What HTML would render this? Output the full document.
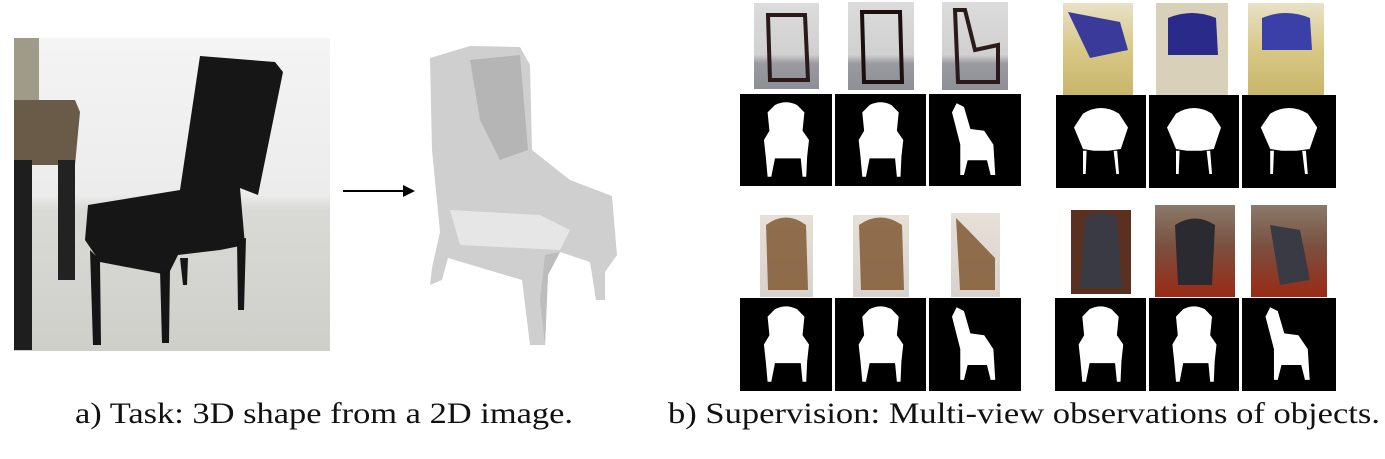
<!DOCTYPE html>
<html><head><meta charset="utf-8"><style>
html,body{margin:0;padding:0;background:#fff;width:1385px;height:459px;overflow:hidden}
svg{display:block}
text{font-family:"Liberation Serif",serif;fill:#111}
</style></head><body>
<svg width="1385" height="459" viewBox="0 0 1385 459">
<defs>
<linearGradient id="wall" x1="0" y1="0" x2="0" y2="1"><stop offset="0" stop-color="#f4f4f4"/><stop offset="0.5" stop-color="#ececec"/><stop offset="0.55" stop-color="#d9d9d6"/><stop offset="1" stop-color="#cfcfca"/></linearGradient>
<linearGradient id="yel" x1="0" y1="0" x2="0" y2="1"><stop offset="0" stop-color="#e8e2c8"/><stop offset="0.5" stop-color="#d8c886"/><stop offset="1" stop-color="#c8b66a"/></linearGradient>
<linearGradient id="grayp" x1="0" y1="0" x2="0" y2="1"><stop offset="0" stop-color="#dcdcdc"/><stop offset="0.6" stop-color="#d0d0d0"/><stop offset="0.7" stop-color="#9a9aa0"/><stop offset="1" stop-color="#8e8e96"/></linearGradient>
<linearGradient id="beige" x1="0" y1="0" x2="0" y2="1"><stop offset="0" stop-color="#e6e0d8"/><stop offset="1" stop-color="#d8d2cc"/></linearGradient>
<linearGradient id="red" x1="0" y1="0" x2="0" y2="1"><stop offset="0" stop-color="#8a7a6a"/><stop offset="0.45" stop-color="#7a5040"/><stop offset="1" stop-color="#9a2a14"/></linearGradient>
<path id="sil" d="M0.38,0.12 Q0.5,0.06 0.62,0.12 L0.7,0.2 L0.68,0.4 L0.75,0.5 L0.73,0.68 L0.72,0.9 L0.68,0.9 L0.66,0.7 L0.38,0.7 L0.34,0.9 L0.3,0.9 L0.28,0.68 L0.26,0.5 L0.32,0.4 L0.3,0.2 Z" fill="#fff"/>
<path id="silside" d="M0.3,0.1 L0.38,0.14 L0.45,0.38 L0.6,0.4 L0.7,0.55 L0.72,0.88 L0.67,0.88 L0.63,0.72 L0.42,0.72 L0.38,0.88 L0.34,0.88 L0.34,0.55 L0.25,0.2 Z" fill="#fff"/>
<path id="silblob" d="M0.3,0.2 Q0.5,0.08 0.7,0.2 L0.8,0.35 L0.72,0.58 L0.58,0.6 L0.42,0.6 L0.3,0.58 L0.2,0.35 Z M0.3,0.6 L0.34,0.6 L0.33,0.85 L0.3,0.85 Z M0.64,0.6 L0.68,0.6 L0.7,0.85 L0.67,0.85 Z" fill="#fff"/>
</defs>

<g>
<rect x="14" y="38" width="316" height="313" fill="url(#wall)"/>
<rect x="14" y="38" width="25" height="70" fill="#a09a88"/>
<path d="M14,100 L75,100 L80,112 L75,165 L14,165 Z" fill="#6a5a48"/>
<rect x="14" y="160" width="18" height="190" fill="#1e1e1e"/>
<rect x="58" y="160" width="17" height="120" fill="#222"/>
<path d="M200,56 L275,62 L283,72 L258,195 L240,188 L245,245 L220,250 L178,255 L168,275 L100,262 L85,240 L88,205 L180,190 Z" fill="#161616"/>
<path d="M90,250 L100,260 L101,345 L93,345 Z" fill="#151515"/>
<path d="M160,270 L170,268 L169,343 L162,343 Z" fill="#151515"/>
<path d="M237,240 L246,238 L244,310 L238,310 Z" fill="#151515"/>
<path d="M180,258 L188,258 L187,285 L183,285 Z" fill="#151515"/>
</g>

<g>
<line x1="343" y1="191" x2="405" y2="191" stroke="#000" stroke-width="2"/>
<path d="M403,185 L415,191 L403,197 Z" fill="#000"/>
</g>

<g>
<path d="M430,58 L470,46 L520,47 L530,65 L532,150 L570,180 L612,196 L617,255 L605,272 L605,300 L596,300 L590,262 L560,252 L548,275 L545,345 L530,345 L522,280 L448,258 L442,280 L430,285 L432,268 L440,232 L432,150 Z" fill="#cfcfcf"/>
<path d="M470,60 L520,55 L528,150 L500,160 L480,120 Z" fill="#b5b5b5"/>
<path d="M450,210 L540,215 L570,230 L560,250 L460,245 Z" fill="#e6e6e6"/>
<path d="M545,255 L560,252 L548,275 L545,345 L540,300 Z" fill="#bdbdbd"/>
</g>

<g>
<rect x="754" y="3" width="65" height="86" fill="url(#grayp)"/>
<rect x="848" y="2" width="66" height="88" fill="url(#grayp)"/>
<rect x="942" y="2" width="66" height="88" fill="url(#grayp)"/>
<path d="M768,15 L805,15 L808,80 L770,80 Z" fill="none" stroke="#2a1a1a" stroke-width="4"/>
<path d="M862,12 L900,12 L902,82 L864,82 Z" fill="none" stroke="#1a1010" stroke-width="4"/>
<path d="M955,10 L965,10 L975,50 L998,45 L998,82 L958,82 Z" fill="none" stroke="#2a1a1a" stroke-width="4"/>
<rect x="1063" y="3" width="70" height="92" fill="url(#yel)"/>
<rect x="1156" y="3" width="72" height="92" fill="#d8d0b8"/>
<rect x="1248" y="3" width="76" height="92" fill="url(#yel)"/>
<path d="M1068,12 L1120,22 L1128,50 L1090,58 Z" fill="#3a3a9a"/>
<path d="M1168,18 Q1192,8 1216,18 L1218,55 L1168,55 Z" fill="#2a2a8a"/>
<path d="M1262,18 Q1286,8 1310,18 L1312,50 L1262,50 Z" fill="#3a40a8"/>
<rect x="760" y="215" width="53" height="82" fill="url(#beige)"/>
<rect x="853" y="215" width="56" height="82" fill="url(#beige)"/>
<rect x="951" y="213" width="49" height="84" fill="url(#beige)"/>
<path d="M766,225 Q786,210 806,225 L808,290 L768,290 Z" fill="#7a5028" opacity="0.8"/>
<path d="M859,225 Q880,210 902,225 L904,290 L861,290 Z" fill="#7a5028" opacity="0.8"/>
<path d="M956,218 L968,230 L995,258 L995,290 L960,290 Z" fill="#7a5028" opacity="0.8"/>
<rect x="1071" y="210" width="60" height="84" fill="#5a3020"/>
<rect x="1155" y="205" width="80" height="92" fill="url(#red)"/>
<rect x="1251" y="205" width="76" height="92" fill="url(#red)"/>
<path d="M1085,218 Q1101,208 1117,218 L1122,288 L1080,288 Z" fill="#3a3a44"/>
<path d="M1175,225 Q1195,212 1215,225 L1212,285 L1178,285 Z" fill="#2a2a30"/>
<path d="M1270,225 L1300,230 L1310,280 L1280,285 Z" fill="#3a3a44"/>

<g>
<rect x="740" y="94" width="92" height="92" fill="#000"/><use href="#sil" transform="translate(740,94) scale(92,92)"/>
<rect x="835" y="94" width="91" height="92" fill="#000"/><use href="#sil" transform="translate(835,94) scale(91,92)"/>
<rect x="929" y="94" width="92" height="92" fill="#000"/><use href="#silside" transform="translate(929,94) scale(92,92)"/>
</g>
<g>
<rect x="1056" y="95" width="90" height="93" fill="#000"/><use href="#silblob" transform="translate(1056,95) scale(90,93)"/>
<rect x="1149" y="95" width="90" height="93" fill="#000"/><use href="#silblob" transform="translate(1149,95) scale(90,93)"/>
<rect x="1242" y="95" width="94" height="93" fill="#000"/><use href="#silblob" transform="translate(1242,95) scale(94,93)"/>
</g>
<g>
<rect x="740" y="298" width="92" height="93" fill="#000"/><use href="#sil" transform="translate(740,298) scale(92,93)"/>
<rect x="835" y="298" width="91" height="93" fill="#000"/><use href="#sil" transform="translate(835,298) scale(91,93)"/>
<rect x="929" y="298" width="92" height="93" fill="#000"/><use href="#silside" transform="translate(929,298) scale(92,93)"/>
</g>
<g>
<rect x="1055" y="298" width="91" height="93" fill="#000"/><use href="#sil" transform="translate(1055,298) scale(91,93)"/>
<rect x="1149" y="298" width="90" height="93" fill="#000"/><use href="#sil" transform="translate(1149,298) scale(90,93)"/>
<rect x="1242" y="298" width="94" height="93" fill="#000"/><use href="#silside" transform="translate(1242,298) scale(94,93)"/>
</g>
</g>

<text x="75" y="423" font-family="Liberation Serif, serif" font-size="30" textLength="498" lengthAdjust="spacingAndGlyphs">a) Task: 3D shape from a 2D image.</text>
<text x="668" y="423" font-family="Liberation Serif, serif" font-size="30" textLength="712" lengthAdjust="spacingAndGlyphs">b) Supervision: Multi-view observations of objects.</text>
</svg>
</body></html>
